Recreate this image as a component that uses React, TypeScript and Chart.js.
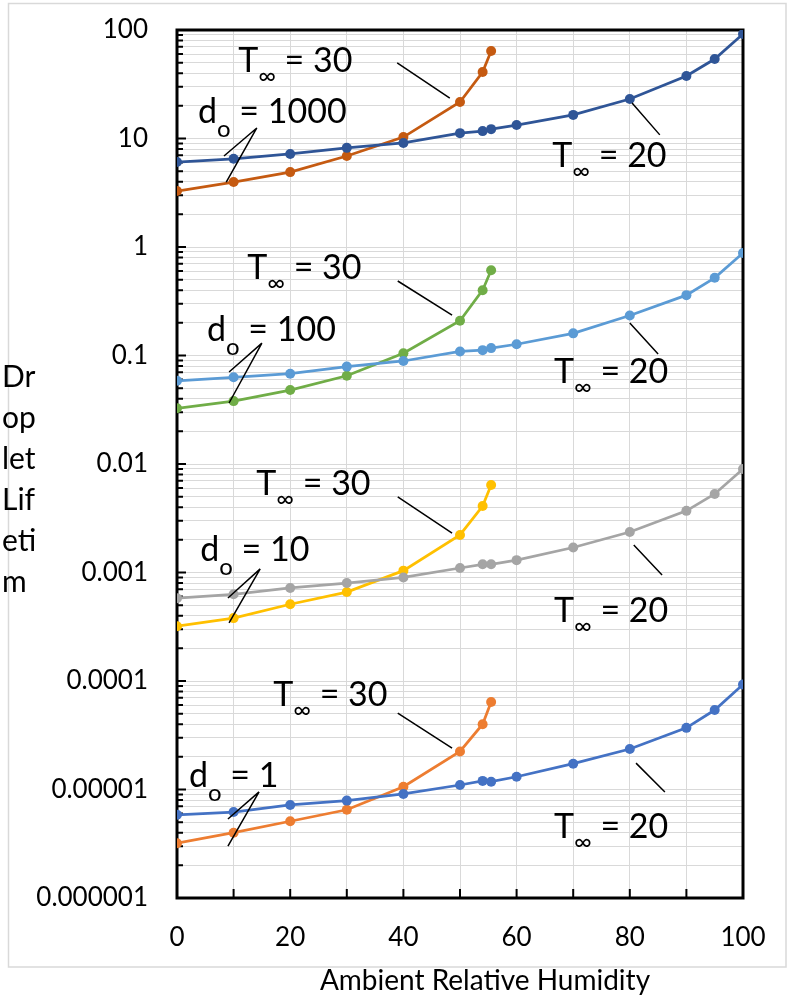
import React, { useEffect, useRef } from 'react';
import { Chart, registerables } from 'chart.js';

Chart.register(...registerables);

// ---------- data ----------
const RH_20 = [0, 10, 20, 30, 40, 50, 54, 55.5, 60, 70, 80, 90, 95, 100];
const RH_30 = [0, 10, 20, 30, 40, 50, 54, 55.5];

const D1000_T20 = [6.07, 6.5, 7.2, 8.2, 9.1, 11.2, 11.7, 12.2, 13.3, 16.5, 23.1, 37.7, 54, 92];
const D1000_T30 = [3.28, 3.97, 4.9, 6.9, 10.3, 21.7, 41, 64];
const D100_T20 = [0.0585, 0.063, 0.068, 0.079, 0.089, 0.109, 0.112, 0.117, 0.127, 0.16, 0.234, 0.36, 0.52, 0.88];
const D100_T30 = [0.0326, 0.038, 0.048, 0.065, 0.105, 0.209, 0.4, 0.61];
const D10_T20 = [0.00058, 0.00063, 0.00072, 0.0008, 0.0009, 0.0011, 0.00119, 0.00119, 0.0013, 0.0017, 0.00236, 0.0037, 0.0053, 0.009];
const D10_T30 = [0.00032, 0.00038, 0.00051, 0.00066, 0.00104, 0.00222, 0.0041, 0.0064];
const D1_T20 = [5.85e-6, 6.2e-6, 7.2e-6, 7.9e-6, 9.1e-6, 1.1e-5, 1.2e-5, 1.18e-5, 1.31e-5, 1.73e-5, 2.36e-5, 3.7e-5, 5.4e-5, 9.3e-5];
const D1_T30 = [3.2e-6, 4.0e-6, 5.1e-6, 6.5e-6, 1.06e-5, 2.24e-5, 4.0e-5, 6.4e-5];

const Y_DECADES = [1e-6, 1e-5, 1e-4, 1e-3, 1e-2, 1e-1, 1, 10, 100];
const Y_TICK_LABELS = ['0.000001', '0.00001', '0.0001', '0.001', '0.01', '0.1', '1', '10', '100'];
const X_TICK_LABELS = ['0', '20', '40', '60', '80', '100'];

const Y_TITLE_LINES = ['Dr', 'op', 'let', 'Lif', 'eti', 'm'];
const X_TITLE = 'Ambient Relative Humidity';

// annotation texts and anchors (data coordinates: x = RH, y = lifetime)
const D_LABEL_VALUES = ['1000', '100', '10', '1'];
const D_LABEL_POS = [[3.7, 13.9], [5.3, 0.136], [4.1, 0.00128], [2.1, 1.05e-5]];
const T30_LABEL_POS = [[10.8, 41], [12.4, 0.507], [14.0, 0.00518], [17.0, 5.89e-5]];
const T20_LABEL_POS = [[66.3, 5.46], [66.6, 0.0558], [66.6, 0.00035], [66.6, 3.57e-6]];

// callout lines
const T30_CALLOUTS = [
  [[38.9, 49.7], [48.2, 23.6]],
  [[39.0, 0.486], [48.6, 0.236]],
  [[39.0, 0.00497], [48.6, 0.00231]],
  [[39.0, 5.07e-5], [48.6, 2.41e-5]],
];
const T20_CALLOUTS = [
  [[80.4, 21.2], [85.3, 10.8]],
  [[80.0, 0.1995], [85.0, 0.103]],
  [[80.7, 0.00179], [85.7, 0.000948]],
  [[81.1, 1.75e-5], [86.2, 9.5e-6]],
];
const D_CALLOUTS = [
  [[14.1, 12.5], [8.3, 6.9], [8.7, 3.97]],
  [[15.0, 0.13], [9.2, 0.0705], [9.2, 0.0365]],
  [[14.7, 0.00108], [9.0, 0.000582], [9.2, 0.000343]],
  [[14.5, 9.5e-6], [9.0, 5.35e-6], [9.0, 3.01e-6]],
];

const SERIES = [
  { label: 'd0=1000, T=20', x: RH_20, y: D1000_T20, color: '#2F5597' },
  { label: 'd0=1000, T=30', x: RH_30, y: D1000_T30, color: '#C55A11' },
  { label: 'd0=100, T=20', x: RH_20, y: D100_T20, color: '#5B9BD5' },
  { label: 'd0=100, T=30', x: RH_30, y: D100_T30, color: '#70AD47' },
  { label: 'd0=10, T=20', x: RH_20, y: D10_T20, color: '#A5A5A5' },
  { label: 'd0=10, T=30', x: RH_30, y: D10_T30, color: '#FFC000' },
  { label: 'd0=1, T=20', x: RH_20, y: D1_T20, color: '#4472C4' },
  { label: 'd0=1, T=30', x: RH_30, y: D1_T30, color: '#ED7D31' },
];

const FONT = 'Lato, "Open Sans", sans-serif';

function decadeIndex(v: number): number {
  for (let i = 0; i < Y_DECADES.length; i++) {
    if (Math.abs(v - Y_DECADES[i]) <= Y_DECADES[i] * 1e-6) return i;
  }
  return -1;
}

function buildYTicks() {
  const ticks: { value: number; major: boolean }[] = [];
  for (let i = 0; i < Y_DECADES.length; i++) {
    const d = Y_DECADES[i];
    const maxM = i === Y_DECADES.length - 1 ? 1 : 9;
    for (let m = 1; m <= maxM; m++) {
      ticks.push({ value: parseFloat((m * d).toPrecision(6)), major: m === 1 });
    }
  }
  return ticks;
}

function drawSubText(ctx: CanvasRenderingContext2D, px: number, py: number, main: string, sub: string, rest: string, drop: number) {
  ctx.font = `34px ${FONT}`;
  ctx.fillText(main, px, py);
  let w = ctx.measureText(main).width;
  ctx.font = `24px ${FONT}`;
  ctx.fillText(sub, px + w, py + drop);
  w += ctx.measureText(sub).width;
  ctx.font = `34px ${FONT}`;
  ctx.fillText(rest, px + w, py);
}

const decorPlugin = {
  id: 'decor',
  beforeDraw(chart: any) {
    const ctx = chart.ctx as CanvasRenderingContext2D;
    ctx.save();
    ctx.strokeStyle = '#d9d9d9';
    ctx.lineWidth = 1.5;
    ctx.strokeRect(8.5, 3.5, 777.5, 963.5);
    ctx.restore();
  },
  beforeDatasetsDraw(chart: any) {
    const ctx = chart.ctx as CanvasRenderingContext2D;
    const a = chart.chartArea;
    const { x, y } = chart.scales;
    ctx.save();
    ctx.strokeStyle = '#000';
    ctx.lineWidth = 2;
    ctx.beginPath();
    y.ticks.forEach((t: any) => {
      const py = y.getPixelForValue(t.value);
      const len = decadeIndex(t.value) >= 0 ? 9 : 6;
      ctx.moveTo(a.left, py);
      ctx.lineTo(a.left + len, py);
    });
    x.ticks.forEach((t: any) => {
      const px = x.getPixelForValue(t.value);
      ctx.moveTo(px, a.bottom);
      ctx.lineTo(px, a.bottom - 9);
    });
    ctx.stroke();
    ctx.lineWidth = 3;
    ctx.strokeRect(a.left, a.top, a.right - a.left, a.bottom - a.top);
    ctx.restore();
  },
  afterDatasetsDraw(chart: any) {
    const ctx = chart.ctx as CanvasRenderingContext2D;
    const a = chart.chartArea;
    const { x, y } = chart.scales;
    const P = (p: number[]) => [x.getPixelForValue(p[0]), y.getPixelForValue(p[1])];
    ctx.save();
    // callout lines
    ctx.strokeStyle = '#000';
    ctx.lineWidth = 1.5;
    ctx.beginPath();
    [...T30_CALLOUTS, ...T20_CALLOUTS].forEach((seg) => {
      const s = P(seg[0]);
      const e = P(seg[1]);
      ctx.moveTo(s[0], s[1]);
      ctx.lineTo(e[0], e[1]);
    });
    D_CALLOUTS.forEach((c) => {
      const apex = P(c[0]);
      for (let k = 1; k < c.length; k++) {
        const e = P(c[k]);
        ctx.moveTo(apex[0], apex[1]);
        ctx.lineTo(e[0], e[1]);
      }
    });
    ctx.stroke();

    // annotation texts
    ctx.fillStyle = '#000';
    ctx.textAlign = 'left';
    ctx.textBaseline = 'alphabetic';
    T30_LABEL_POS.forEach((p) => {
      const q = P(p);
      drawSubText(ctx, q[0], q[1], 'T', '\u221E', ' = 30', 12);
    });
    T20_LABEL_POS.forEach((p) => {
      const q = P(p);
      drawSubText(ctx, q[0], q[1], 'T', '\u221E', ' = 20', 12);
    });
    D_LABEL_POS.forEach((p, i) => {
      const q = P(p);
      drawSubText(ctx, q[0], q[1], 'd', 'o', ' = ' + D_LABEL_VALUES[i], 14);
    });

    // axis titles
    ctx.font = `30px ${FONT}`;
    ctx.textBaseline = 'middle';
    ctx.textAlign = 'left';
    Y_TITLE_LINES.forEach((line, i) => {
      ctx.fillText(line, 2, 377 + i * 41);
    });
    ctx.font = `28px ${FONT}`;
    ctx.textAlign = 'center';
    ctx.textBaseline = 'alphabetic';
    ctx.fillText(X_TITLE, (a.left + a.right) / 2 + 25, a.bottom + 92);
    ctx.restore();
  },
};

export default function App() {
  const ref = useRef<HTMLCanvasElement | null>(null);

  useEffect(() => {
    let chart: Chart | null = null;
    let cancelled = false;
    const build = () => {
      if (cancelled || !ref.current) return;
      chart = new Chart(ref.current, {
        type: 'line',
        data: {
          datasets: SERIES.map((s) => ({
            label: s.label,
            data: s.x.map((xv, i) => ({ x: xv, y: s.y[i] })),
            borderColor: s.color,
            backgroundColor: s.color,
            pointBackgroundColor: s.color,
            pointBorderColor: s.color,
            pointBorderWidth: 0,
            pointRadius: 5,
            borderWidth: 2.75,
            tension: 0,
            fill: false,
          })),
        },
        options: {
          animation: false,
          responsive: false,
          devicePixelRatio: 1,
          layout: { padding: { top: 30, right: 48, left: 0, bottom: 0 } },
          plugins: { legend: { display: false }, tooltip: { enabled: false } },
          scales: {
            x: {
              type: 'linear',
              min: 0,
              max: 100,
              afterFit: (s: any) => {
                s.height = 104;
                s.paddingLeft = 0;
                s.paddingRight = 0;
              },
              ticks: {
                stepSize: 10,
                autoSkip: false,
                maxRotation: 0,
                padding: 24,
                color: '#000',
                font: { family: FONT, size: 26 },
                callback: (v: any) => {
                  const s = String(v);
                  return X_TICK_LABELS.includes(s) ? s : '';
                },
              },
              grid: { color: '#d9d9d9', lineWidth: 1, drawTicks: false },
              border: { display: false },
            },
            y: {
              type: 'logarithmic',
              min: 1e-6,
              max: 100,
              afterFit: (s: any) => {
                s.width = 177;
                s.paddingTop = 0;
                s.paddingBottom = 0;
              },
              afterBuildTicks: (s: any) => {
                s.ticks = buildYTicks();
              },
              ticks: {
                autoSkip: false,
                padding: 29,
                color: '#000',
                font: { family: FONT, size: 26 },
                callback: (v: any) => {
                  const i = decadeIndex(Number(v));
                  return i >= 0 ? Y_TICK_LABELS[i] : '';
                },
              },
              grid: { color: '#d9d9d9', lineWidth: 1, drawTicks: false },
              border: { display: false },
            },
          },
        },
        plugins: [decorPlugin],
      } as any);
    };
    const fonts = (document as any).fonts;
    if (fonts && fonts.load) {
      Promise.all([fonts.load(`26px Lato`), fonts.load(`34px Lato`)]).then(build, build);
    } else {
      build();
    }
    return () => {
      cancelled = true;
      if (chart) chart.destroy();
    };
  }, []);

  return (
    <div style={{ position: 'absolute', left: 0, top: 0, width: 791, height: 1002, background: '#fff' }}>
      <canvas ref={ref} width={791} height={1002} style={{ display: 'block' }} />
    </div>
  );
}
